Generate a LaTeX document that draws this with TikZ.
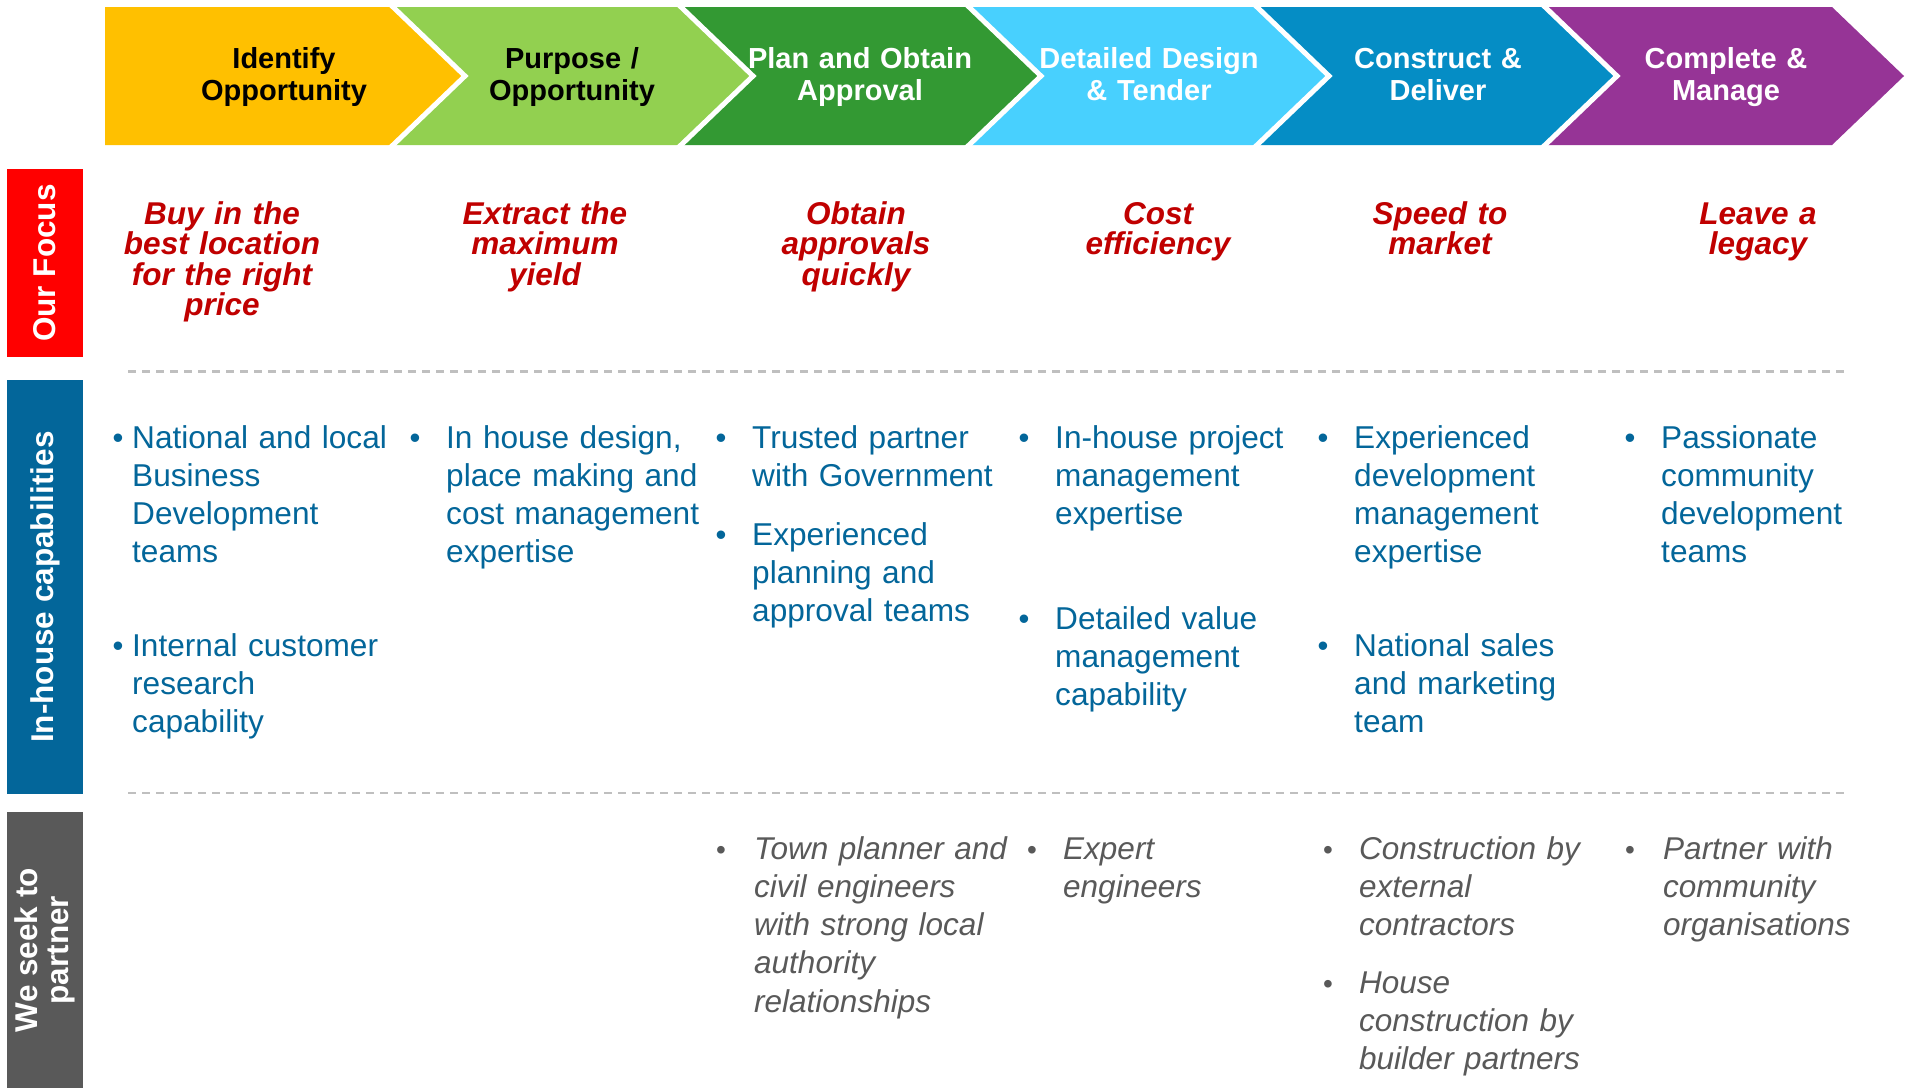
\documentclass[tikz,border=0pt]{standalone}
\usepackage{fontspec}
\setmainfont{Liberation Sans}
\definecolor{cYellow}{HTML}{FFC000}
\definecolor{cLime}{HTML}{92D050}
\definecolor{cGreen}{HTML}{339933}
\definecolor{cSky}{HTML}{48D0FE}
\definecolor{cBlue}{HTML}{058DC5}
\definecolor{cPurple}{HTML}{963496}
\definecolor{focusBox}{HTML}{FF0000}
\definecolor{capBox}{HTML}{03669A}
\definecolor{partBox}{HTML}{595959}
\definecolor{focusText}{HTML}{C00000}
\definecolor{capText}{HTML}{03669A}
\definecolor{partText}{HTML}{595959}
\definecolor{sepLine}{HTML}{BFBFBF}
\begin{document}
\begin{tikzpicture}[x=1pt,y=-1pt,
  stagetext/.style={font=\fontsize{29}{32}\selectfont\bfseries, text width=300pt,
    align=center, anchor=base, inner sep=0pt},
  focustext/.style={text=focusText, font=\fontsize{31.5}{30.5}\selectfont\bfseries\itshape,
    text width=320pt, align=center, anchor=base, inner sep=0pt},
  captext/.style={text=capText, font=\fontsize{31.6}{38.3}\selectfont, text width=320pt,
    align=left, anchor=base west, inner sep=0pt},
  capdot/.style={text=capText, font=\fontsize{31}{38}\selectfont, anchor=base, inner sep=0pt},
  parttext/.style={text=partText, font=\fontsize{31.5}{38.3}\selectfont\itshape, text width=320pt,
    align=left, anchor=base west, inner sep=0pt},
  partdot/.style={text=partText, font=\fontsize{28}{38}\selectfont, anchor=base, inner sep=0pt},
  sidebox/.style={rotate=90, minimum height=76pt, inner sep=0pt, text=white,
    font=\fontsize{31.5}{31}\selectfont\bfseries, align=center},
  gapline/.style={draw=white, line width=5pt, line join=miter},
  sepline/.style={draw=sepLine, line width=2.5pt, dash pattern=on 8pt off 6pt}
]
\fill[white] (0,0) rectangle (1910,1088);
\useasboundingbox (0,0) rectangle (1910,1088);

% process chevrons
\fill[cYellow] (105,7) -- (392,7) -- (464,76) -- (392,145) -- (105,145) -- cycle;
\foreach \i/\c in {1/cLime,2/cGreen,3/cSky,4/cBlue,5/cPurple}{
  \pgfmathsetmacro{\L}{105+288*\i}
  \fill[\c] (\L,7) -- (\L+287,7) -- (\L+359,76) -- (\L+287,145) -- (\L,145) -- (\L+72,76) -- cycle;
}
\foreach \i in {1,...,5}{
  \pgfmathsetmacro{\L}{105+288*\i}
  \draw[gapline] (\L-5.2,2) -- (\L+72,76) -- (\L-5.2,150);
}
\node[stagetext, text=black] (s1) at (284,68.5) {Identify\\Opportunity};
\node[stagetext, text=black] (s2) at (572,68.5) {Purpose /\\Opportunity};
\node[stagetext, text=white] (s3) at (860,68.5) {Plan and Obtain\\Approval};
\node[stagetext, text=white] (s4) at (1149,68.5) {Detailed Design\\\& Tender};
\node[stagetext, text=white] (s5) at (1438,68.5) {Construct \&\\Deliver};
\node[stagetext, text=white] (s6) at (1726,68.5) {Complete \&\\Manage};

% row labels
\node[sidebox, fill=focusBox, minimum width=188pt] (lfocus) at (45,263) {Our Focus};
\node[sidebox, fill=capBox, minimum width=414pt] (lcap) at (45,587) {In-house capabilities};
\node[sidebox, fill=partBox, minimum width=276pt] (lpart) at (45,950) {We seek to\\partner};

% separators
\draw[sepline] (128,371.5) -- (1845,371.5);
\draw[sepline] (128,793) -- (1845,793);

% focus row
\node[focustext] (f1) at (222,224) {Buy in the\\best location\\for the right\\price};
\node[focustext] (f2) at (545,224) {Extract the\\maximum\\yield};
\node[focustext] (f3) at (856,224) {Obtain\\approvals\\quickly};
\node[focustext] (f4) at (1158,224) {Cost\\efficiency};
\node[focustext] (f5) at (1440,224) {Speed to\\market};
\node[focustext] (f6) at (1758,224) {Leave a\\legacy};

% in-house capabilities row
\node[capdot] (cb1a) at (118,448) {•};
\node[captext] (c1a) at (132,448) {National and local\\Business\\Development\\teams};
\node[capdot] (cb1b) at (118,656) {•};
\node[captext] (c1b) at (132,656) {Internal customer\\research\\capability};

\node[capdot] (cb2a) at (415,448) {•};
\node[captext] (c2a) at (446,448) {In house design,\\place making and\\cost management\\expertise};

\node[capdot] (cb3a) at (721,448) {•};
\node[captext] (c3a) at (752,448) {Trusted partner\\with Government};
\node[capdot] (cb3b) at (721,545) {•};
\node[captext] (c3b) at (752,545) {Experienced\\planning and\\approval teams};

\node[capdot] (cb4a) at (1024,448) {•};
\node[captext] (c4a) at (1055,448) {In-house project\\management\\expertise};
\node[capdot] (cb4b) at (1024,629) {•};
\node[captext] (c4b) at (1055,629) {Detailed value\\management\\capability};

\node[capdot] (cb5a) at (1323,448) {•};
\node[captext] (c5a) at (1354,448) {Experienced\\development\\management\\expertise};
\node[capdot] (cb5b) at (1323,656) {•};
\node[captext] (c5b) at (1354,656) {National sales\\and marketing\\team};

\node[capdot] (cb6a) at (1630,448) {•};
\node[captext] (c6a) at (1661,448) {Passionate\\community\\development\\teams};

% partner row
\node[partdot] (pb3) at (721,859) {•};
\node[parttext] (p3) at (754,859) {Town planner and\\civil engineers\\with strong local\\authority\\relationships};
\node[partdot] (pb4) at (1032,859) {•};
\node[parttext] (p4) at (1063,859) {Expert\\engineers};
\node[partdot] (pb5a) at (1328,859) {•};
\node[parttext] (p5a) at (1359,859) {Construction by\\external\\contractors};
\node[partdot] (pb5b) at (1328,993) {•};
\node[parttext] (p5b) at (1359,993) {House\\construction by\\builder partners};
\node[partdot] (pb6) at (1630,859) {•};
\node[parttext] (p6) at (1663,859) {Partner with\\community\\organisations};
\end{tikzpicture}
\end{document}
